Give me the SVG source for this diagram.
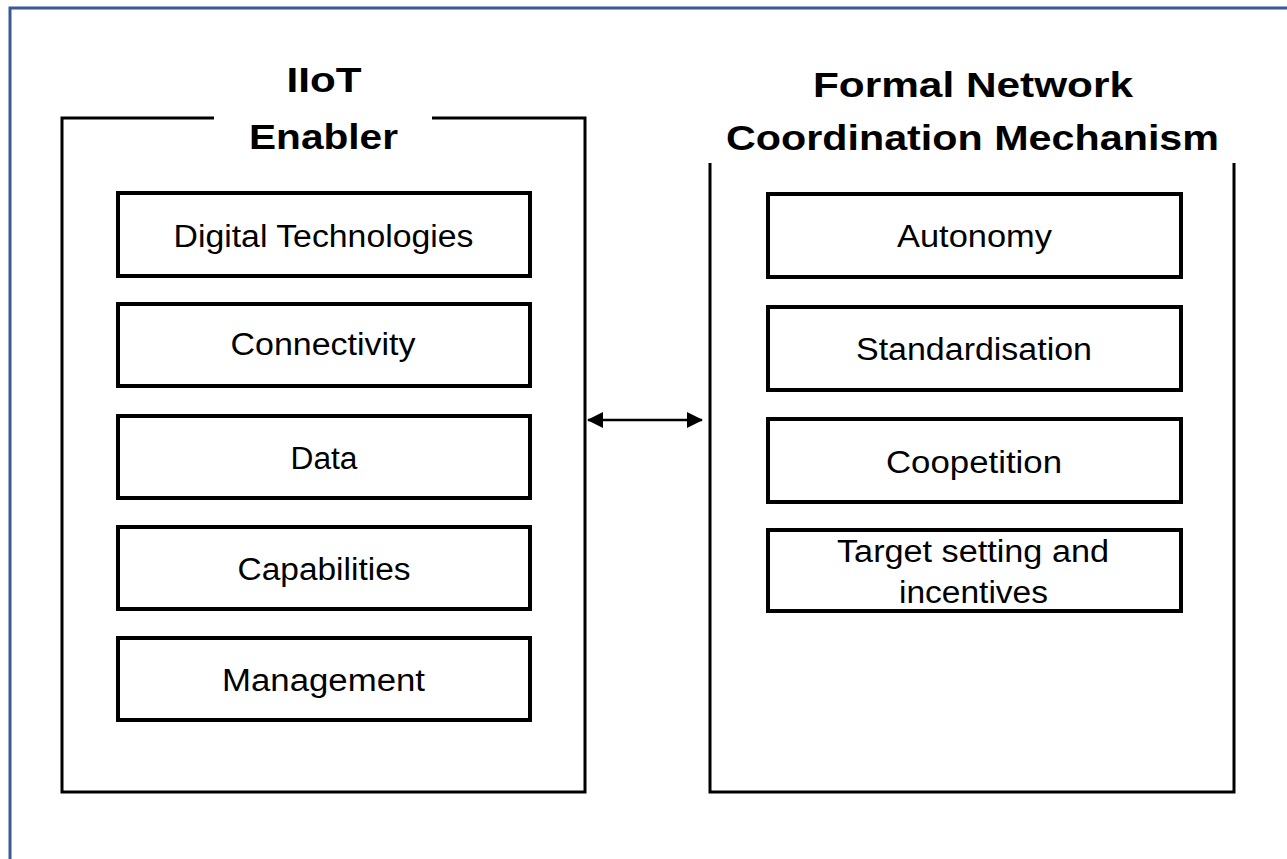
<svg xmlns="http://www.w3.org/2000/svg" width="1287" height="859" viewBox="0 0 1287 859">
<style>
.frame{fill:none;stroke:#3A5A97;stroke-width:3}
.panel{fill:none;stroke:#000;stroke-width:3}
.box{fill:#fff;stroke:#000;stroke-width:4}
.title{font-family:"Liberation Sans",Arial,sans-serif;font-weight:bold;font-size:35px;fill:#000;text-anchor:middle}
.lbl{font-family:"Liberation Sans",Arial,sans-serif;font-size:31px;fill:#000;text-anchor:middle}
.conn{stroke:#000;stroke-width:2.5;fill:none}
</style>
<defs>
<marker id="ah" viewBox="0 0 16 16" refX="15" refY="8" markerWidth="16" markerHeight="16" markerUnits="userSpaceOnUse" orient="auto-start-reverse">
<path d="M0,0 L16,8 L0,16 Z" fill="#000"/>
</marker>
</defs>
<rect width="1287" height="859" fill="#fff"/>
<rect class="frame" x="10" y="8" width="1300" height="900"/>

<g id="iiot-enabler">
<path class="panel" d="M214,118 H62 V792 H585 V118 H432"/>
<text class="title" x="324" y="92" textLength="75" lengthAdjust="spacingAndGlyphs">IIoT</text>
<text class="title" x="323.5" y="149" textLength="149" lengthAdjust="spacingAndGlyphs">Enabler</text>
</g>
<g id="digital-technologies">
<rect class="box" x="118" y="193" width="412" height="83"/>
<text class="lbl" x="323.5" y="247" textLength="300" lengthAdjust="spacingAndGlyphs">Digital Technologies</text>
</g>
<g id="connectivity">
<rect class="box" x="118" y="304" width="412" height="82"/>
<text class="lbl" x="323" y="355" textLength="185" lengthAdjust="spacingAndGlyphs">Connectivity</text>
</g>
<g id="data">
<rect class="box" x="118" y="416" width="412" height="82"/>
<text class="lbl" x="324" y="469" textLength="67" lengthAdjust="spacingAndGlyphs">Data</text>
</g>
<g id="capabilities">
<rect class="box" x="118" y="527" width="412" height="82"/>
<text class="lbl" x="324" y="580" textLength="173" lengthAdjust="spacingAndGlyphs">Capabilities</text>
</g>
<g id="management">
<rect class="box" x="118" y="638" width="412" height="82"/>
<text class="lbl" x="323.5" y="691" textLength="203" lengthAdjust="spacingAndGlyphs">Management</text>
</g>

<g id="formal-network">
<path class="panel" d="M710,163 V792 H1234 V163"/>
<text class="title" x="973" y="97" textLength="320" lengthAdjust="spacingAndGlyphs">Formal Network</text>
<text class="title" x="972.5" y="150" textLength="493" lengthAdjust="spacingAndGlyphs">Coordination Mechanism</text>
</g>
<g id="autonomy">
<rect class="box" x="768" y="194" width="413" height="83"/>
<text class="lbl" x="974.5" y="247" textLength="155" lengthAdjust="spacingAndGlyphs">Autonomy</text>
</g>
<g id="standardisation">
<rect class="box" x="768" y="307" width="413" height="83"/>
<text class="lbl" x="974" y="360" textLength="236" lengthAdjust="spacingAndGlyphs">Standardisation</text>
</g>
<g id="coopetition">
<rect class="box" x="768" y="419" width="413" height="83"/>
<text class="lbl" x="974" y="473" textLength="176" lengthAdjust="spacingAndGlyphs">Coopetition</text>
</g>
<g id="target-setting">
<rect class="box" x="768" y="530" width="413" height="81"/>
<text class="lbl" x="973" y="562" textLength="272" lengthAdjust="spacingAndGlyphs">Target setting and</text>
<text class="lbl" x="973.5" y="603" textLength="149" lengthAdjust="spacingAndGlyphs">incentives</text>
</g>

<g id="connectors">
<line class="conn" x1="588" y1="420" x2="702" y2="420" marker-start="url(#ah)" marker-end="url(#ah)"/>
</g>
</svg>
